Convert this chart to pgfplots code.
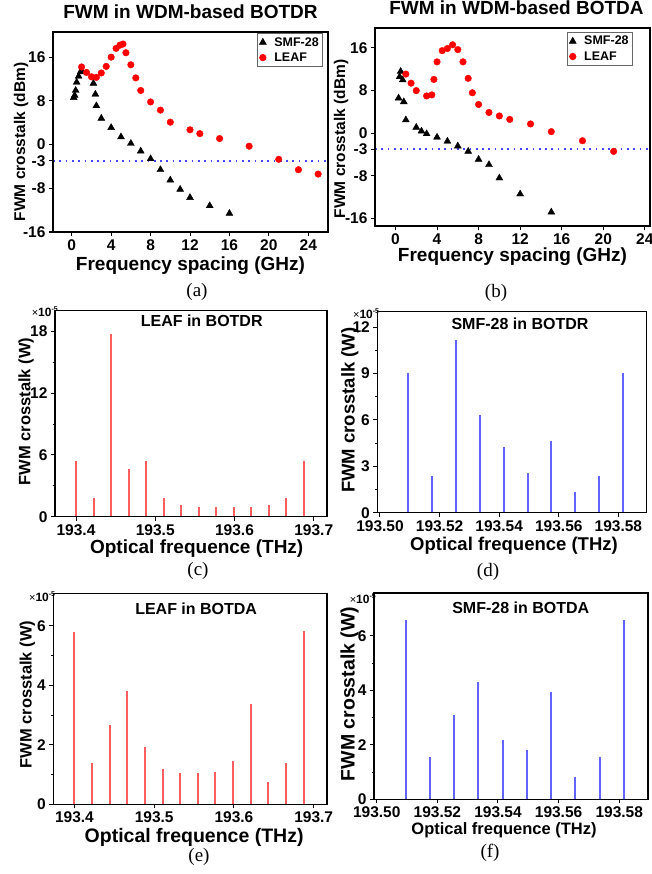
\documentclass[border=0pt]{standalone}
\usepackage{fontspec}
\setmainfont{Liberation Sans}
\newfontfamily\capfont{Liberation Serif}
\usepackage{pgfplots}
\pgfplotsset{compat=1.18}

\newcommand\fs[1]{\bfseries\fontsize{#1}{#1}\selectfont}
\newcommand\expo{{\normalfont\fontsize{11}{11}\selectfont\texttimes}\fs{12}10\raisebox{5pt}{\fontsize{7}{7}\selectfont -5}}
% a frame made of four filled strips: #1 = top-left corner, #2 = width, #3 = height
\newcommand\frm[3]{%
  \fill[black] ($#1+(-0.6pt,0.6pt)$) rectangle ++(#2+1.2pt,-1.2pt);
  \fill[black] ($#1+(-0.6pt,-#3+0.6pt)$) rectangle ++(#2+1.2pt,-1.2pt);
  \fill[black] ($#1+(-0.6pt,0.6pt)$) rectangle ++(1.2pt,-#3-1.2pt);
  \fill[black] ($#1+(#2-0.6pt,0.6pt)$) rectangle ++(1.2pt,-#3-1.2pt);}
\usetikzlibrary{calc}

\definecolor{barred}{RGB}{255,95,95}
\definecolor{barblue}{RGB}{100,100,255}
\definecolor{dotblue}{RGB}{70,70,255}

\pgfplotsset{
  panel/.style={
    scale only axis, anchor=north west,
    axis line style={black, line width=1.2pt},
    every tick/.style={black, line width=1pt},
    tick align=outside, xtick pos=bottom, ytick pos=left,
    major tick length=4pt, minor tick length=2.5pt,
    /pgf/number format/assume math mode=true,
    tick label style={font=\fs{15.5}},
    scaled ticks=false,
  },
  % label placement: #1 = relative height of ylabel, #2 = distance left of axis
  ylab/.style 2 args={every axis y label/.style={at={(0,#1)}, anchor=center, inner sep=0pt, xshift=-#2, rotate=90}},
  % #1 = xshift, #2 = distance below axis
  xlab/.style 2 args={every axis x label/.style={at={(0.5,0)}, anchor=center, xshift=#1, yshift=-#2}},
  spec/.style={panel, ymin=0, minor y tick num=1, clip=false},
  leg/.style={legend style={at={#1}, anchor=north east, font=\fs{12.5},
    draw=black!60, line width=0.6pt, inner xsep=2pt, inner ysep=2pt, row sep=1pt,
    /tikz/every odd column/.append style={column sep=6pt}},
    legend cell align=left},
  dots/.style={dotblue, line width=1.7pt, dash pattern=on 1.7pt off 4.6pt, forget plot},
}

\begin{document}
\begin{tikzpicture}
\path[use as bounding box] (0,0) rectangle (652pt,-874pt);

% ---------- (a) ----------
\begin{axis}[panel, at={(53pt,-32pt)}, width=275pt, height=200pt,
  xmin=-1.9, xmax=26, ymin=-16, ymax=20.6,
  xtick={0,4,...,24}, ytick={-16,-8,-3,0,8,16},
  title={FWM in WDM-based BOTDR},
  title style={font=\fs{19}, at={(0.5,1)}, anchor=base, yshift=7pt},
  xlabel={Frequency spacing (GHz)}, ylabel={FWM crosstalk (dBm)},
  xlab={0pt}{34pt}, ylab={0.45}{32pt},
  x label style={font=\fs{19}}, y label style={font=\fs{15.5}},
  leg={(0.982,0.995)},
]
\addplot[dots] coordinates {(-1.9,-3) (26,-3)};
\addplot[only marks, mark=triangle*, mark size=4pt, black] coordinates {
  (0.2,8.6) (0.3,9.0) (0.4,9.9) (0.5,11.4) (0.7,12.5) (0.9,13.3) (1.0,13.6)
  (2.2,11.2) (2.4,9.2) (2.5,7.1) (3,4.8) (4,3.1) (5,1.4) (6,0.2) (7,-1.2)
  (8,-2.6) (9,-4.6) (10,-6.5) (11,-8.2) (12,-9.7) (14,-11.2) (16,-12.6)};
\addlegendentry{SMF-28}
\addplot[only marks, mark=*, mark size=3.3pt, red] coordinates {
  (1,14.2) (1.5,13.2) (2,12.4) (2.5,12.3) (3,13.1) (3.5,14.3) (4,16.0)
  (4.5,17.6) (4.9,18.2) (5.2,18.4) (5.5,16.8) (6,14.6) (6.5,12.2) (7,9.9)
  (8,7.8) (9,6.3) (10,4.1) (12,2.7) (13,2.0) (15,1.1) (18,-0.3) (21,-2.7)
  (23,-4.6) (25,-5.4)};
\addlegendentry{LEAF}
\end{axis}

% ---------- (b) ----------
\begin{axis}[panel, at={(375pt,-28pt)}, width=275pt, height=198pt,
  xmin=-1.97, xmax=24.5, ymin=-17.4, ymax=19.75,
  xtick={0,4,...,24}, ytick={-16,-8,-3,0,8,16},
  title={FWM in WDM-based BOTDA},
  title style={font=\fs{19}, at={(0.5,1)}, anchor=base, yshift=7pt, xshift=4pt},
  xlabel={Frequency spacing (GHz)}, ylabel={FWM crosstalk (dBm)},
  xlab={0pt}{31pt}, ylab={0.44}{34pt},
  x label style={font=\fs{19}}, y label style={font=\fs{15.5}},
  leg={(0.938,0.98)},
]
\addplot[dots] coordinates {(-1.97,-3) (24.5,-3)};
\addplot[only marks, mark=triangle*, mark size=4pt, black] coordinates {
  (0.3,6.6) (0.4,10.6) (0.5,11.6) (0.7,10.0) (0.8,5.9) (1,2.5) (2,1.1)
  (2.5,0.4) (3,-0.1) (4,-0.75) (5,-1.5) (6,-2.4) (7,-3.4) (8,-4.9)
  (9,-5.9) (10,-8.4) (12,-11.4) (15,-14.8)};
\addlegendentry{SMF-28}
\addplot[only marks, mark=*, mark size=3.3pt, red] coordinates {
  (1,11.1) (1.5,9.4) (2,8.0) (3,7.0) (3.5,7.2) (3.7,10.1) (4,13.4)
  (4.5,15.5) (5,15.9) (5.5,16.6) (6,15.7) (6.5,13.4) (7,10.3) (7.4,7.6)
  (8,5.4) (9,3.9) (10,3.25) (11,2.6) (13,1.75) (15,0.3) (18,-1.4) (21,-3.4)};
\addlegendentry{LEAF}
\end{axis}

% Spectra: x is the offset from 193.4 THz (c, e) or 193.5 THz (d, f) in GHz,
% so that TeX's float precision does not move the lines.

% ---------- (c) ----------
\begin{axis}[spec, at={(55pt,-310.7pt)}, width=272pt, height=206pt,
  xmin=-26.5, xmax=316.7, ymax=20,
  xtick={0,100,200,300}, xticklabels={193.4,193.5,193.6,193.7},
  ytick={0,6,12,18},
  xlabel={Optical frequence (THz)}, ylabel={FWM crosstalk (W)},
  xlab={5.7pt}{32pt}, ylab={0.51}{29pt},
  x label style={font=\fs{19}}, y label style={font=\fs{16.5}},
]
\addplot[ycomb, barred, line width=2pt] coordinates {
  (0,5.42) (22.1,1.84) (44.2,17.74) (66.3,4.68) (88.4,5.42) (110.5,1.84)
  (132.6,1.13) (154.7,0.97) (176.8,0.97) (198.9,0.97) (221.0,0.97)
  (243.1,1.13) (265.2,1.84) (287.3,5.42)};
\node[font=\fs{16}] at (rel axis cs:0.5,1) [xshift=10.7pt, yshift=-10.5pt] {LEAF in BOTDR};
\node[anchor=east, inner sep=0pt] at (rel axis cs:0,1) [xshift=3pt, yshift=-1pt] {\expo};
\end{axis}

% ---------- (d) ----------
\begin{axis}[spec, at={(377.3pt,-311.7pt)}, width=269.4pt, height=201pt,
  xmin=-0.9, xmax=89.5, ymax=13,
  xtick={0,20,40,60,80}, xticklabels={193.50,193.52,193.54,193.56,193.58},
  ytick={0,3,...,12},
  xlabel={Optical frequence (THz)}, ylabel={FWM crosstalk (W)},
  xlab={2pt}{33pt}, ylab={0.51}{27.5pt},
  x label style={font=\fs{18.5}}, y label style={font=\fs{18.5}},
]
\addplot[ycomb, barblue, line width=2pt] coordinates {
  (9.5,9.03) (17.5,2.35) (25.5,11.2) (33.5,6.3) (41.5,4.25) (49.5,2.6)
  (57.5,4.65) (65.5,1.35) (73.5,2.35) (81.5,9.03)};
\node[font=\fs{16}] at (rel axis cs:0.5,1) [xshift=8pt, yshift=-12.5pt] {SMF-28 in BOTDR};
\node[anchor=east, inner sep=0pt] at (rel axis cs:0,1) [xshift=2pt, yshift=-2pt] {\expo};
\end{axis}

% ---------- (e) ----------
\begin{axis}[spec, at={(53.3pt,-593.3pt)}, width=273.7pt, height=211pt,
  xmin=-26.5, xmax=316.7, ymax=7.1,
  xtick={0,100,200,300}, xticklabels={193.4,193.5,193.6,193.7},
  ytick={0,2,4,6},
  xlabel={Optical frequence (THz)}, ylabel={FWM crosstalk (W)},
  xlab={4pt}{33pt}, ylab={0.52}{26pt},
  x label style={font=\fs{19.5}}, y label style={font=\fs{16.5}},
]
\addplot[ycomb, barred, line width=2pt] coordinates {
  (0,5.79) (22.1,1.38) (44.2,2.67) (66.3,3.80) (88.4,1.94) (110.5,1.20)
  (132.6,1.07) (154.7,1.04) (176.8,1.10) (198.9,1.46) (221.0,3.38)
  (243.1,0.74) (265.2,1.38) (287.3,5.82)};
\node[font=\fs{16}] at (rel axis cs:0.5,1) [xshift=6pt, yshift=-15.7pt] {LEAF in BOTDA};
\node[anchor=east, inner sep=0pt] at (rel axis cs:0,1) [xshift=2pt, yshift=-3pt] {\expo};
\end{axis}

% ---------- (f) ----------
\begin{axis}[spec, at={(374pt,-593pt)}, width=274pt, height=206.3pt,
  xmin=-0.9, xmax=89.5, ymax=7.57,
  xtick={0,20,40,60,80}, xticklabels={193.50,193.52,193.54,193.56,193.58},
  ytick={0,2,4,6},
  xlabel={Optical frequence (THz)}, ylabel={FWM crosstalk (W)},
  xlab={-7pt}{31pt}, ylab={0.51}{24.5pt},
  x label style={font=\fs{16.5}}, y label style={font=\fs{19.5}},
]
\addplot[ycomb, barblue, line width=2pt] coordinates {
  (9.5,6.58) (17.5,1.54) (25.5,3.1) (33.5,4.3) (41.5,2.18) (49.5,1.81)
  (57.5,3.92) (65.5,0.83) (73.5,1.54) (81.5,6.58)};
\node[font=\fs{16}] at (rel axis cs:0.5,1) [xshift=9.7pt, yshift=-14.5pt] {SMF-28 in BOTDA};
\node[anchor=east, inner sep=0pt] at (rel axis cs:0,1) [xshift=2pt, yshift=-6pt] {\expo};
\end{axis}

% frames round the six plot areas
\frm{(53pt,-32pt)}{275pt}{200pt}
\frm{(375pt,-28pt)}{275pt}{198pt}
\frm{(55pt,-310.7pt)}{272pt}{206pt}
\frm{(377.3pt,-311.7pt)}{269.4pt}{201pt}
\frm{(53.3pt,-593.3pt)}{273.7pt}{211pt}
\frm{(374pt,-593pt)}{274pt}{206.3pt}

% captions
\begin{scope}[every node/.style={font=\capfont\fontsize{19}{19}\selectfont}]
\node at (197pt,-292pt) {(a)};
\node at (496pt,-293pt) {(b)};
\node at (198pt,-571pt) {(c)};
\node at (488pt,-572pt) {(d)};
\node at (199pt,-857pt) {(e)};
\node at (490pt,-853pt) {(f)};
\end{scope}
\end{tikzpicture}
\end{document}
